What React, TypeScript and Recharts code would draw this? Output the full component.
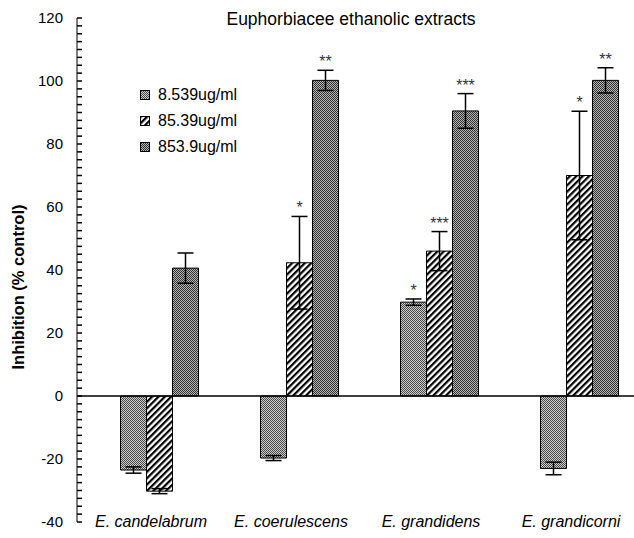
import React from 'react';
import {
  BarChart,
  Bar,
  XAxis,
  YAxis,
  ErrorBar,
  LabelList,
  Legend,
  ReferenceLine,
} from 'recharts';

const categories = ['E. candelabrum', 'E. coerulescens', 'E. grandidens', 'E. grandicorni'];

const low = [-23.5, -19.7, 29.8, -23];
const lowErr = [1, 0.8, 1, 2];
const lowSig = ['', '', '*', ''];

const mid = [-30.2, 42.3, 46, 70];
const midErr = [0.8, 14.7, 6.2, 20.4];
const midSig = ['', '*', '***', '*'];

const high = [40.6, 100.2, 90.5, 100.2];
const highErr = [4.8, 3.2, 5.5, 4];
const highSig = ['', '**', '***', '**'];

const majorTicks = [-40, -20, 0, 20, 40, 60, 80, 100, 120];

const seriesNames = ['8.539ug/ml', '85.39ug/ml', '853.9ug/ml'];

// minor ticks every 2.5 between the labelled ones
const allTicks: number[] = [];
majorTicks.forEach((t, i) => {
  allTicks.push(t);
  if (i < majorTicks.length - 1) {
    for (let k = 1; k < 8; k++) allTicks.push(t + k * 2.5);
  }
});

const data = categories.map((name, i) => ({
  name,
  v1: low[i],
  e1: lowErr[i],
  s1: lowSig[i],
  v2: mid[i],
  e2: midErr[i],
  s2: midSig[i],
  v3: high[i],
  e3: highErr[i],
  s3: highSig[i],
}));

const FONT = '"Liberation Sans", Arial, sans-serif';
const fills = ['url(#dotLight)', 'url(#hatch)', 'url(#dotDark)'];

// inward tick marks, label only on the multiples of 20
const YTick = (props: any) => {
  const { x, y, payload } = props;
  const v = payload.value;
  const major = majorTicks.includes(v);
  return (
    <g>
      <rect x={x} y={y - 0.75} width={5} height={1.5} fill="#000" />
      {major && (
        <text x={x - 14} y={y} dy={5} textAnchor="end" fontSize={15} fontFamily={FONT} fill="#000">
          {v}
        </text>
      )}
    </g>
  );
};

const XTick = (props: any) => {
  const { x, y, payload } = props;
  return (
    <text x={x} y={y} dx={-8} dy={5} textAnchor="middle" fontSize={16} fontStyle="italic" fontFamily={FONT} fill="#000">
      {payload.value}
    </text>
  );
};

const YLabel = () => (
  <text
    x={18}
    y={287}
    transform="rotate(-90, 18, 287)"
    textAnchor="middle"
    dominantBaseline="central"
    fontSize={16.5}
    fontWeight="bold"
    fontFamily={FONT}
    fill="#000"
  >
    Inhibition (% control)
  </text>
);

const makeStars = (values: number[], errs: number[]) => (props: any) => {
  const { x, y, width, height, value, index } = props;
  if (!value) return null;
  const perUnit = height / values[index];
  const errTop = y - errs[index] * perUnit;
  return (
    <text x={x + width / 2} y={errTop - 3} textAnchor="middle" fontSize={16} fontFamily={FONT} fill="#333">
      {value}
    </text>
  );
};

const LegendBox = () => (
  <div style={{ fontFamily: FONT, fontSize: 16, lineHeight: '26px' }}>
    {seriesNames.map((n, i) => (
      <div key={n} style={{ display: 'flex', alignItems: 'center' }}>
        <svg width={10} height={10} style={{ marginRight: 8 }}>
          <rect x={0.5} y={0.5} width={9} height={9} fill={fills[i]} stroke="#000" strokeWidth={1} />
        </svg>
        <span>{n}</span>
      </div>
    ))}
  </div>
);

const App = () => (
  <div style={{ position: 'absolute', left: 0, top: 0, width: 634, height: 538, overflow: 'hidden', background: '#fff' }}>
    <div
      style={{
        position: 'absolute',
        left: 0,
        top: 9,
        width: 702,
        textAlign: 'center',
        fontFamily: FONT,
        fontSize: 17.5,
        color: '#000',
      }}
    >
      Euphorbiacee ethanolic extracts
    </div>
    <BarChart
      width={650}
      height={538}
      data={data}
      margin={{ top: 18, right: 1, bottom: 0, left: 0 }}
      barCategoryGap="22.5%"
      barGap={0}
    >
      <defs>
        <pattern id="dotLight" patternUnits="userSpaceOnUse" width={2} height={2}>
          <rect width={2} height={2} fill="#cccccc" />
          <rect width={1} height={1} fill="#4a4a4a" />
          <rect x={1} y={1} width={1} height={1} fill="#4a4a4a" />
        </pattern>
        <pattern id="dotDark" patternUnits="userSpaceOnUse" width={2} height={2}>
          <rect width={2} height={2} fill="#b4b4b4" />
          <rect width={1} height={1} fill="#333333" />
          <rect x={1} y={1} width={1} height={1} fill="#333333" />
        </pattern>
        <pattern id="hatch" patternUnits="userSpaceOnUse" width={4.5} height={4.5} patternTransform="rotate(45)">
          <rect width={4.5} height={4.5} fill="#fff" />
          <rect width={2.2} height={4.5} fill="#000" />
        </pattern>
      </defs>
      <XAxis
        dataKey="name"
        axisLine={false}
        tickLine={false}
        tickSize={0}
        tickMargin={0}
        height={16}
        padding={{ left: 12, right: 0 }}
        tick={<XTick />}
        interval={0}
      />
      <YAxis
        domain={[-40, 120]}
        ticks={allTicks}
        interval={0}
        width={77}
        tickLine={false}
        tickSize={0}
        tickMargin={0}
        axisLine={{ stroke: '#000', strokeWidth: 1 }}
        tick={<YTick />}
        label={<YLabel />}
      />
      <ReferenceLine y={0} stroke="#000" strokeWidth={1.5} />
      <Legend
        layout="vertical"
        align="center"
        verticalAlign="middle"
        content={<LegendBox />}
        wrapperStyle={{ left: 140, top: 82, width: 'auto', height: 'auto' }}
      />
      <Bar dataKey="v1" name={seriesNames[0]} fill={fills[0]} stroke="#000" strokeWidth={1} isAnimationActive={false}>
        <ErrorBar dataKey="e1" width={8} stroke="#000" strokeWidth={1.5} isAnimationActive={false} />
        <LabelList dataKey="s1" content={makeStars(low, lowErr)} />
      </Bar>
      <Bar dataKey="v2" name={seriesNames[1]} fill={fills[1]} stroke="#000" strokeWidth={1} isAnimationActive={false}>
        <ErrorBar dataKey="e2" width={8} stroke="#000" strokeWidth={1.5} isAnimationActive={false} />
        <LabelList dataKey="s2" content={makeStars(mid, midErr)} />
      </Bar>
      <Bar dataKey="v3" name={seriesNames[2]} fill={fills[2]} stroke="#000" strokeWidth={1} isAnimationActive={false}>
        <ErrorBar dataKey="e3" width={8} stroke="#000" strokeWidth={1.5} isAnimationActive={false} />
        <LabelList dataKey="s3" content={makeStars(high, highErr)} />
      </Bar>
    </BarChart>
  </div>
);

export default App;
